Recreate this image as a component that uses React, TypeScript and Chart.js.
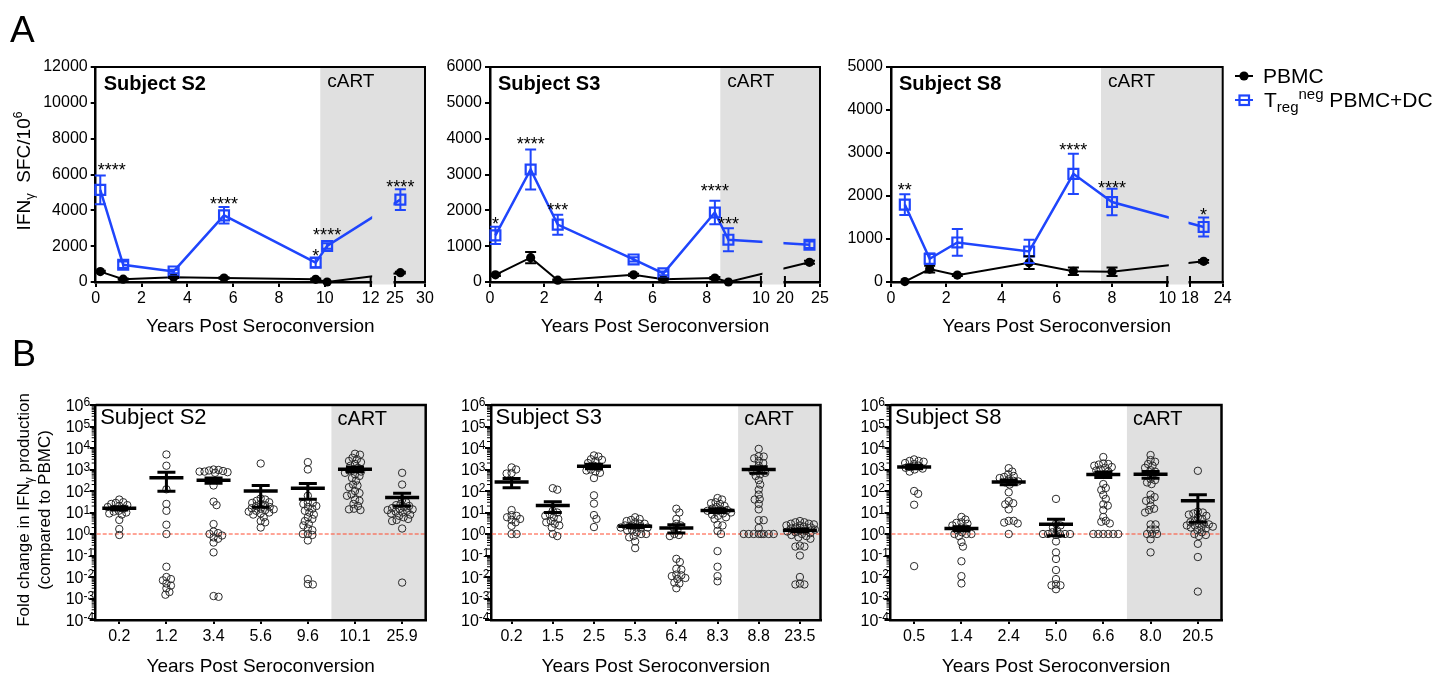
import React, { useEffect, useRef } from "react";
import { Chart, registerables } from "chart.js";

Chart.register(...registerables);

const FONT = '"Liberation Sans", Arial, Helvetica, sans-serif';
const f = (size: number, bold = false) => `${bold ? "bold " : ""}${size}px ${FONT}`;
const BLUE = "#1f45fc";
const GRAY = "#e0e0e0";
const RED = "#ff4a2e";

// ---------------- Panel A data (IFN-gamma SFC/10^6) ----------------
const s2Years = [0.2, 1.2, 3.4, 5.6, 9.6, 10.1, 25.9];
const s2Pbmc = [580, 160, 260, 220, 150, 0, 520];
const s2PbmcErr = [50, 40, 40, 40, 40, 0, 50];
const s2Treg = [5140, 960, 590, 3720, 1080, 2010, 4600];
const s2TregErr = [800, 180, 100, 460, 260, 150, 580];
const s2Stars = ["****", "", "", "****", "*", "****", "****"];
const s2StarY = [6450, 0, 0, 4600, 1650, 2850, 5550];

const s3Years = [0.2, 1.5, 2.5, 5.3, 6.4, 8.3, 8.8, 23.5];
const s3Pbmc = [200, 680, 50, 200, 80, 110, 0, 550];
const s3PbmcErr = [30, 160, 20, 30, 20, 30, 0, 40];
const s3Treg = [1300, 3140, 1600, 630, 240, 1940, 1180, 1040];
const s3TregErr = [240, 560, 280, 60, 50, 330, 320, 90];
const s3Stars = ["*", "****", "***", "", "", "****", "***", ""];
const s3StarY = [1720, 3970, 2120, 0, 0, 2650, 1720, 0];

const s8Years = [0.5, 1.4, 2.4, 5.0, 6.6, 8.0, 20.5];
const s8Pbmc = [10, 300, 160, 450, 250, 240, 480];
const s8PbmcErr = [0, 80, 20, 150, 90, 100, 30];
const s8Treg = [1800, 540, 920, 710, 2515, 1860, 1280];
const s8TregErr = [240, 120, 310, 270, 470, 310, 220];
const s8Stars = ["**", "", "", "", "****", "****", "*"];
const s8StarY = [2230, 0, 0, 0, 3170, 2290, 1650];

// ---------------- Panel B data (fold change vs PBMC) ----------------
const s2Cats = ["0.2", "1.2", "3.4", "5.6", "9.6", "10.1", "25.9"];
const s2Fold = [
  [40, 30, 28, 25, 22, 20, 18, 15, 12, 10, 9, 11, 8, 4.5, 1.7, 0.9],
  [5000, 1500, 120, 25, 12, 2.7, 1.0, 0.03, 0.01, 0.008, 0.007, 0.005, 0.004, 0.003, 0.002, 0.0015],
  [1000, 900, 850, 800, 800, 750, 950, 700, 180, 22, 32, 2.9, 1.3, 1.1, 1.0, 0.85, 0.7, 0.6, 0.4, 0.14, 0.0013, 0.0012],
  [1900, 45, 40, 35, 30, 28, 25, 22, 20, 18, 16, 15, 14, 13, 12, 11, 10, 9, 8, 6, 4, 3.5, 2],
  [2200, 1000, 60, 30, 28, 25, 20, 18, 15, 12, 10, 8, 6, 5, 4, 3, 2.5, 1.8, 1.5, 1.0, 1.0, 0.9, 0.5, 0.008, 0.0047, 0.0045],
  [5400, 4900, 3500, 3000, 2500, 2200, 1800, 1500, 1200, 1000, 900, 800, 700, 600, 500, 400, 300, 200, 180, 150, 100, 80, 70, 60, 40, 35, 25, 20, 15, 14, 13],
  [700, 200, 40, 30, 25, 22, 20, 18, 16, 15, 14, 13, 12, 11, 10, 9, 8, 7, 6, 5, 4.5, 4, 1.8, 0.0055],
];

const s3Cats = ["0.2", "1.5", "2.5", "5.3", "6.4", "8.3", "8.8", "23.5"];
const s3Fold = [
  [1250, 1000, 680, 650, 13, 7.5, 7, 6, 5, 4.5, 3.5, 2.4, 1.0, 1.0],
  [135, 115, 12, 10, 8, 7, 6, 5, 4, 3.5, 3, 2.5, 2, 1.0, 0.8],
  [4500, 4000, 2800, 3000, 2500, 2000, 1500, 1200, 1000, 900, 800, 700, 400, 63, 26, 7.6, 5, 2.1],
  [6, 5, 4.5, 4, 3.5, 3, 3, 2.5, 2.5, 2, 2, 2, 1.8, 1.5, 1.5, 1.2, 1.0, 1.0, 0.8, 0.7, 0.45, 0.22],
  [15, 10, 5, 3, 2.5, 2, 1.5, 1.0, 0.9, 0.8, 0.07, 0.05, 0.024, 0.022, 0.013, 0.012, 0.011, 0.009, 0.008, 0.0055, 0.005, 0.003],
  [47, 40, 30, 27, 25, 20, 18, 15, 14, 13, 12, 11, 10, 9, 8, 7, 6, 5, 2.7, 2.5, 1.4, 1.0, 0.16, 0.03, 0.011, 0.0063],
  [9100, 4100, 4000, 3300, 2500, 2000, 1500, 1000, 900, 800, 700, 600, 500, 320, 200, 115, 68, 42, 40, 25, 14, 4.4, 4.4, 1.9, 1, 1, 1, 1, 1, 1, 1, 1],
  [4, 3.5, 3.5, 3, 3, 2.8, 2.5, 2.5, 2.2, 2, 2, 1.8, 1.6, 1.5, 1.4, 1.3, 1.2, 1.1, 1.0, 0.9, 0.8, 0.7, 0.6, 0.29, 0.26, 0.26, 0.1, 0.01, 0.005, 0.0045, 0.0045],
];

const s8Cats = ["0.5", "1.4", "2.4", "5.0", "6.6", "8.0", "20.5"];
const s8Fold = [
  [2950, 2500, 2500, 2300, 2000, 1800, 1500, 1300, 1200, 1100, 1000, 800, 100, 74, 23, 0.032],
  [6.2, 4.7, 3.5, 3.3, 3, 2.5, 2, 1.8, 1.5, 1.2, 1.0, 1.0, 1.0, 0.8, 0.42, 0.26, 0.054, 0.011, 0.005],
  [1150, 800, 600, 500, 450, 400, 350, 300, 280, 250, 200, 87, 34, 27, 24, 14, 4.1, 4.1, 3.4, 3.1, 1.0],
  [43, 3, 2.5, 2, 1.5, 1.2, 1.0, 1.0, 1.0, 1.0, 1.0, 0.9, 0.45, 0.14, 0.069, 0.021, 0.008, 0.0046, 0.0041, 0.0041, 0.0027],
  [3800, 1900, 1800, 1700, 1500, 1300, 1200, 1000, 900, 800, 210, 138, 112, 66, 43, 24, 21, 13, 6.2, 4.1, 3.7, 3.1, 1, 1, 1, 1, 1, 1],
  [4700, 2750, 2300, 1800, 1500, 1200, 930, 800, 360, 320, 250, 210, 68, 52, 39, 35, 21, 15, 13, 10, 2.8, 2.8, 1.6, 1.6, 1, 1, 1, 0.57, 0.14],
  [870, 11, 10, 9, 8, 7, 6, 5, 4, 3.5, 3, 3, 2.8, 2.5, 2.5, 2.2, 2, 2, 1.8, 1.5, 1.2, 1.0, 0.9, 0.8, 0.35, 0.085, 0.0021],
];

const logExps = [-4, -3, -2, -1, 0, 1, 2, 3, 4, 5, 6];

// ---------------- layout ----------------
const TOP_Y = 0, TOP_H = 345, TOP_AREA_TOP = 67, TOP_AREA_BOTTOM = 282;
const BOT_Y = 335, BOT_H = 339, BOT_AREA_TOP = 405, BOT_AREA_BOTTOM = 620;

const topSpecs: any[] = [
  { left: 0, width: 440, areaLeft: 95.7, areaRight: 425, yMax: 12000, yStep: 2000, segA: [0, 12], segB: [25, 30], fA: 0.835, fGap: 0.0738, ticksA: [0, 2, 4, 6, 8, 10, 12], ticksB: [25, 30], cart: 9.8, subject: "Subject S2", years: s2Years, pbmc: s2Pbmc, pbmcErr: s2PbmcErr, treg: s2Treg, tregErr: s2TregErr, stars: s2Stars, starY: s2StarY, main: true },
  { left: 440, width: 390, areaLeft: 490, areaRight: 820, yMax: 6000, yStep: 1000, segA: [0, 10], segB: [20, 25], fA: 0.821, fGap: 0.0727, ticksA: [0, 2, 4, 6, 8, 10], ticksB: [20, 25], cart: 8.5, subject: "Subject S3", years: s3Years, pbmc: s3Pbmc, pbmcErr: s3PbmcErr, treg: s3Treg, tregErr: s3TregErr, stars: s3Stars, starY: s3StarY },
  { left: 830, width: 612, areaLeft: 891, areaRight: 1222.7, yMax: 5000, yStep: 1000, segA: [0, 10], segB: [18, 24], fA: 0.833, fGap: 0.0684, ticksA: [0, 2, 4, 6, 8, 10], ticksB: [18, 24], cart: 7.6, subject: "Subject S8", years: s8Years, pbmc: s8Pbmc, pbmcErr: s8PbmcErr, treg: s8Treg, tregErr: s8TregErr, stars: s8Stars, starY: s8StarY, legend: true },
];

const botSpecs: any[] = [
  { left: 0, width: 440, areaLeft: 95.7, areaRight: 425.7, cats: s2Cats, fold: s2Fold, cartIdx: 5, subject: "Subject S2", main: true },
  { left: 440, width: 390, areaLeft: 491, areaRight: 820.5, cats: s3Cats, fold: s3Fold, cartIdx: 6, subject: "Subject S3" },
  { left: 830, width: 612, areaLeft: 890.5, areaRight: 1221.5, cats: s8Cats, fold: s8Fold, cartIdx: 5, subject: "Subject S8" },
];

// ---------------- helpers ----------------
type Run = { t: string; size: number; dy?: number; bold?: boolean };
function drawRuns(ctx: CanvasRenderingContext2D, list: Run[], x: number, y: number, align: "left" | "center", rot = 0, color = "#000") {
  ctx.save();
  ctx.translate(x, y);
  if (rot) ctx.rotate(rot);
  ctx.fillStyle = color;
  ctx.textAlign = "left";
  ctx.textBaseline = "alphabetic";
  let total = 0;
  const widths = list.map((r) => {
    ctx.font = f(r.size, r.bold);
    const w = ctx.measureText(r.t).width;
    total += w;
    return w;
  });
  let cx = align === "center" ? -total / 2 : 0;
  list.forEach((r, i) => {
    ctx.font = f(r.size, r.bold);
    ctx.fillText(r.t, cx, r.dy || 0);
    cx += widths[i];
  });
  ctx.restore();
}

function makeMap(segA: number[], segB: number[], fA: number, fGap: number) {
  const fB = 1 - fA - fGap;
  return (x: number) =>
    x <= segA[1]
      ? ((x - segA[0]) / (segA[1] - segA[0])) * fA
      : fA + fGap + ((x - segB[0]) / (segB[1] - segB[0])) * fB;
}

// simple beeswarm: x offsets in pixels, derived from the values' log positions
function swarm(values: number[], pxPerDecade: number, minDist: number, maxHalf: number): number[] {
  const order = values.map((_, i) => i).sort((a, b) => values[b] - values[a]);
  const placed: { x: number; y: number }[] = [];
  const out = new Array(values.length).fill(0);
  for (const i of order) {
    const y = Math.log10(values[i]) * pxPerDecade;
    let best = 0;
    let found = false;
    let bestScore = -1;
    for (let k = 0; k < 400; k++) {
      const cand = (k % 2 === 1 ? 1 : -1) * Math.ceil(k / 2) * 0.5;
      if (Math.abs(cand) > maxHalf) break;
      let md = Infinity;
      for (const p of placed) md = Math.min(md, Math.hypot(p.x - cand, p.y - y));
      if (md >= minDist) {
        best = cand;
        found = true;
        break;
      }
      if (md > bestScore + 0.3) {
        bestScore = md;
        best = cand;
      }
    }
    if (!found && bestScore < 0) best = 0;
    placed.push({ x: best, y });
    out[i] = best;
  }
  return out;
}

function errBars(ctx: CanvasRenderingContext2D, xs: any, ys: any, xv: number[], vals: number[], errs: number[], color: string, cap: number) {
  ctx.save();
  ctx.strokeStyle = color;
  ctx.lineWidth = 2;
  xv.forEach((v, i) => {
    const e = errs[i];
    if (!e) return;
    const px = xs.getPixelForValue(v);
    const hi = ys.getPixelForValue(vals[i] + e);
    const lo = ys.getPixelForValue(Math.max(0, vals[i] - e));
    ctx.beginPath();
    ctx.moveTo(px, hi);
    ctx.lineTo(px, lo);
    ctx.moveTo(px - cap / 2, hi);
    ctx.lineTo(px + cap / 2, hi);
    ctx.moveTo(px - cap / 2, lo);
    ctx.lineTo(px + cap / 2, lo);
    ctx.stroke();
  });
  ctx.restore();
}

function frame(ctx: CanvasRenderingContext2D, a: any, w: number) {
  ctx.save();
  ctx.strokeStyle = "#000";
  ctx.lineWidth = w;
  ctx.beginPath();
  ctx.moveTo(a.left, a.top);
  ctx.lineTo(a.right, a.top);
  ctx.lineTo(a.right, a.bottom + 1);
  ctx.stroke();
  ctx.restore();
}

const axisCommon = (tickLength: number) => ({
  grid: { display: true, drawOnChartArea: false, drawTicks: true, tickLength, lineWidth: 2, color: "#000" },
  border: { display: true, color: "#000", width: 2.5 },
});

// ---------------- Panel A chart config ----------------
function topConfig(p: any): any {
  const map = makeMap(p.segA, p.segB, p.fA, p.fGap);
  const tickYears = [...p.ticksA, ...p.ticksB];
  const xv = p.years.map(map);
  const yW = p.areaLeft - p.left;
  const padRight = p.left + p.width - p.areaRight;
  const xH = TOP_Y + TOP_H - TOP_AREA_BOTTOM;

  const decor = {
    id: "topDecor",
    beforeDraw(chart: any) {
      const { ctx, chartArea: a, scales } = chart;
      const xs = scales.x.getPixelForValue(map(p.cart));
      ctx.save();
      ctx.fillStyle = GRAY;
      ctx.fillRect(xs, a.top, a.right - xs, a.bottom - a.top);
      ctx.restore();
    },
    afterDatasetsDraw(chart: any) {
      const { ctx, chartArea: a, scales } = chart;
      const X = scales.x, Y = scales.y;
      // axis break
      const g0 = X.getPixelForValue(map(p.segA[1]));
      const g1 = X.getPixelForValue(map(p.segB[0]));
      ctx.save();
      ctx.fillStyle = GRAY;
      ctx.fillRect(g0 + 1.5, a.top + 1, g1 - g0 - 3, a.bottom - a.top + 1.5);
      ctx.strokeStyle = "#000";
      ctx.lineWidth = 2;
      [g0, g1].forEach((gx) => {
        ctx.beginPath();
        ctx.moveTo(gx, a.bottom - 6);
        ctx.lineTo(gx, a.bottom + 5);
        ctx.stroke();
      });
      ctx.restore();
      // error bars
      errBars(ctx, X, Y, xv, p.pbmc, p.pbmcErr, "#000", 11);
      errBars(ctx, X, Y, xv, p.treg, p.tregErr, BLUE, 11);
      // significance stars
      ctx.save();
      ctx.font = f(18);
      ctx.fillStyle = "#000";
      ctx.textBaseline = "alphabetic";
      ctx.textAlign = "left";
      p.stars.forEach((s: string, i: number) => {
        if (!s) return;
        const w = ctx.measureText(s).width;
        let lx = X.getPixelForValue(xv[i]) - w / 2;
        if (lx < a.left + 2) lx = a.left + 2;
        ctx.fillText(s, lx, Y.getPixelForValue(p.starY[i]) + 10);
      });
      ctx.restore();
      frame(ctx, a, 2);
      // labels
      const cartPx = X.getPixelForValue(map(p.cart));
      drawRuns(ctx, [{ t: p.subject, size: 20, bold: true }], a.left + 8, a.top + 23, "left");
      drawRuns(ctx, [{ t: "cART", size: 19 }], cartPx + 7, a.top + 20, "left");
      drawRuns(ctx, [{ t: "Years Post Seroconversion", size: 19 }], (a.left + a.right) / 2, 332 - TOP_Y, "center");
      if (p.main) {
        drawRuns(ctx, [{ t: "A", size: 37 }], 10 - p.left, 42 - TOP_Y, "left");
        drawRuns(
          ctx,
          [
            { t: "IFN", size: 19 },
            { t: "γ", size: 13, dy: 4 },
            { t: "  SFC/10", size: 19 },
            { t: "6", size: 12, dy: -8 },
          ],
          30 - p.left,
          171 - TOP_Y,
          "center",
          -Math.PI / 2
        );
      }
      if (p.legend) {
        const ox = -p.left;
        ctx.save();
        ctx.lineWidth = 2;
        ctx.strokeStyle = "#000";
        ctx.beginPath();
        ctx.moveTo(1235 + ox, 76);
        ctx.lineTo(1253 + ox, 76);
        ctx.stroke();
        ctx.fillStyle = "#000";
        ctx.beginPath();
        ctx.arc(1244 + ox, 76, 4.6, 0, Math.PI * 2);
        ctx.fill();
        ctx.strokeStyle = BLUE;
        ctx.beginPath();
        ctx.moveTo(1235 + ox, 100);
        ctx.lineTo(1253 + ox, 100);
        ctx.stroke();
        ctx.lineWidth = 2.2;
        ctx.strokeRect(1239.5 + ox, 95.5, 9.5, 9.5);
        ctx.restore();
        drawRuns(ctx, [{ t: "PBMC", size: 21 }], 1263 + ox, 83, "left");
        drawRuns(
          ctx,
          [
            { t: "T", size: 21 },
            { t: "reg", size: 15, dy: 5 },
            { t: "neg", size: 15, dy: -8 },
            { t: " PBMC+DC", size: 21 },
          ],
          1264 + ox,
          107,
          "left"
        );
      }
    },
  };

  return {
    type: "line",
    data: {
      datasets: [
        {
          label: "Treg neg PBMC+DC",
          data: p.years.map((x: number, i: number) => ({ x: map(x), y: p.treg[i] })),
          borderColor: BLUE,
          borderWidth: 2.5,
          pointStyle: "rect",
          pointRadius: 7,
          pointBorderWidth: 2.2,
          pointBorderColor: BLUE,
          pointBackgroundColor: "rgba(0,0,0,0)",
          tension: 0,
          fill: false,
          clip: false,
        },
        {
          label: "PBMC",
          data: p.years.map((x: number, i: number) => ({ x: map(x), y: p.pbmc[i] })),
          borderColor: "#000",
          borderWidth: 2,
          pointStyle: "circle",
          pointRadius: 4.6,
          pointBorderWidth: 0,
          pointBackgroundColor: "#000",
          pointBorderColor: "#000",
          tension: 0,
          fill: false,
          clip: false,
        },
      ],
    },
    options: {
      animation: false,
      responsive: false,
      maintainAspectRatio: false,
      events: [],
      layout: { padding: { left: 0, right: padRight, top: TOP_AREA_TOP - TOP_Y, bottom: 0 } },
      plugins: { legend: { display: false }, tooltip: { enabled: false } },
      scales: {
        x: {
          type: "linear",
          min: 0,
          max: 1,
          afterBuildTicks: (s: any) => {
            s.ticks = tickYears.map((t) => ({ value: map(t) }));
          },
          afterFit: (s: any) => {
            s.height = xH;
            s.paddingLeft = 0;
            s.paddingRight = 0;
          },
          ticks: {
            autoSkip: false,
            maxRotation: 0,
            minRotation: 0,
            padding: 2,
            color: "#000",
            font: { family: FONT, size: 16 },
            callback: (_v: any, i: number) => String(tickYears[i]),
          },
          ...axisCommon(5),
        },
        y: {
          type: "linear",
          min: 0,
          max: p.yMax,
          afterFit: (s: any) => {
            s.width = yW;
            s.paddingTop = 0;
            s.paddingBottom = 0;
          },
          ticks: {
            stepSize: p.yStep,
            padding: 3,
            color: "#000",
            font: { family: FONT, size: 16 },
            callback: (v: any) => String(v),
          },
          ...axisCommon(5),
        },
      },
    },
    plugins: [decor],
  };
}

// ---------------- Panel B chart config ----------------
function botConfig(p: any): any {
  const n = p.cats.length;
  const colPx = (p.areaRight - p.areaLeft) / n;
  const pxPerDecade = (BOT_AREA_BOTTOM - BOT_AREA_TOP) / 10;
  const pts: { x: number; y: number }[] = [];
  p.fold.forEach((vals: number[], i: number) => {
    const offs = swarm(vals, pxPerDecade, 4.6, 15);
    vals.forEach((v, j) => pts.push({ x: i + offs[j] / colPx, y: v }));
  });
  const yW = p.areaLeft - p.left;
  const padRight = p.left + p.width - p.areaRight;
  const xH = BOT_Y + BOT_H - BOT_AREA_BOTTOM;

  const decor = {
    id: "botDecor",
    beforeDraw(chart: any) {
      const { ctx, chartArea: a, scales } = chart;
      const xs = scales.x.getPixelForValue(p.cartIdx - 0.5);
      ctx.save();
      ctx.fillStyle = GRAY;
      ctx.fillRect(xs, a.top, a.right - xs, a.bottom - a.top);
      ctx.restore();
    },
    beforeDatasetsDraw(chart: any) {
      const { ctx, chartArea: a, scales } = chart;
      const y1 = scales.y.getPixelForValue(1);
      ctx.save();
      ctx.strokeStyle = RED;
      ctx.lineWidth = 1;
      ctx.setLineDash([4, 2]);
      ctx.beginPath();
      ctx.moveTo(a.left + 1, y1);
      ctx.lineTo(a.right, y1);
      ctx.stroke();
      ctx.restore();
    },
    afterDatasetsDraw(chart: any) {
      const { ctx, chartArea: a, scales } = chart;
      const X = scales.x, Y = scales.y;
      // mean +/- SEM
      ctx.save();
      ctx.strokeStyle = "#000";
      p.fold.forEach((vals: number[], i: number) => {
        const m = vals.reduce((s, v) => s + v, 0) / vals.length;
        const sd = Math.sqrt(vals.reduce((s, v) => s + (v - m) * (v - m), 0) / (vals.length - 1));
        const sem = sd / Math.sqrt(vals.length);
        const px = X.getPixelForValue(i);
        const pm = Y.getPixelForValue(m);
        const ph = Y.getPixelForValue(m + sem);
        const pl = Y.getPixelForValue(Math.max(m - sem, 1e-4));
        ctx.lineWidth = 3.5;
        ctx.beginPath();
        ctx.moveTo(px - 17, pm);
        ctx.lineTo(px + 17, pm);
        ctx.stroke();
        ctx.lineWidth = 3;
        ctx.beginPath();
        ctx.moveTo(px, ph);
        ctx.lineTo(px, pl);
        ctx.moveTo(px - 9, ph);
        ctx.lineTo(px + 9, ph);
        ctx.moveTo(px - 9, pl);
        ctx.lineTo(px + 9, pl);
        ctx.stroke();
      });
      // minor log ticks
      ctx.lineWidth = 1;
      ctx.beginPath();
      for (let e = -4; e < 6; e++) {
        for (let k = 2; k <= 9; k++) {
          const py = Y.getPixelForValue(k * Math.pow(10, e));
          ctx.moveTo(a.left - 1, py);
          ctx.lineTo(a.left - 4, py);
        }
      }
      ctx.stroke();
      ctx.restore();
      // log tick labels 10^n
      logExps.forEach((e) => {
        const py = Y.getPixelForValue(Math.pow(10, e));
        drawRuns(ctx, [{ t: "10", size: 16 }, { t: e < 0 ? "-" + Math.abs(e) : String(e), size: 12, dy: -4.5 }], a.left - 30, py + 5.5, "left");
      });
      frame(ctx, a, 2.5);
      const cartPx = X.getPixelForValue(p.cartIdx - 0.5);
      drawRuns(ctx, [{ t: p.subject, size: 22 }], a.left + 4.5, a.top + 19, "left");
      drawRuns(ctx, [{ t: "cART", size: 20 }], cartPx + 6, a.top + 20, "left");
      drawRuns(ctx, [{ t: "Years Post Seroconversion", size: 19 }], (a.left + a.right) / 2, 672 - BOT_Y, "center");
      if (p.main) {
        drawRuns(ctx, [{ t: "B", size: 36 }], 12 - p.left, 366 - BOT_Y, "left");
        drawRuns(
          ctx,
          [
            { t: "Fold change in IFN", size: 17 },
            { t: "γ", size: 12, dy: 4 },
            { t: " production", size: 17 },
          ],
          29 - p.left,
          510 - BOT_Y,
          "center",
          -Math.PI / 2
        );
        drawRuns(ctx, [{ t: "(compared to PBMC)", size: 17 }], 50 - p.left, 510 - BOT_Y, "center", -Math.PI / 2);
      }
    },
  };

  return {
    type: "scatter",
    data: {
      datasets: [
        {
          label: "Fold change",
          data: pts,
          pointStyle: "circle",
          pointRadius: 3.7,
          pointBorderWidth: 1,
          pointBorderColor: "#2a2a2a",
          pointBackgroundColor: "rgba(255,255,255,0)",
          showLine: false,
        },
      ],
    },
    options: {
      animation: false,
      responsive: false,
      maintainAspectRatio: false,
      events: [],
      layout: { padding: { left: 0, right: padRight, top: BOT_AREA_TOP - BOT_Y, bottom: 0 } },
      plugins: { legend: { display: false }, tooltip: { enabled: false } },
      scales: {
        x: {
          type: "linear",
          min: -0.5,
          max: n - 0.5,
          afterBuildTicks: (s: any) => {
            s.ticks = p.cats.map((_: string, i: number) => ({ value: i }));
          },
          afterFit: (s: any) => {
            s.height = xH;
            s.paddingLeft = 0;
            s.paddingRight = 0;
          },
          ticks: {
            autoSkip: false,
            maxRotation: 0,
            minRotation: 0,
            padding: 3,
            color: "#000",
            font: { family: FONT, size: 16 },
            callback: (_v: any, i: number) => p.cats[i],
          },
          ...axisCommon(4),
        },
        y: {
          type: "logarithmic",
          min: 1e-4,
          max: 1e6,
          afterBuildTicks: (s: any) => {
            s.ticks = logExps.map((e) => ({ value: Math.pow(10, e) }));
          },
          afterFit: (s: any) => {
            s.width = yW;
            s.paddingTop = 0;
            s.paddingBottom = 0;
          },
          ticks: { callback: () => "", padding: 0 },
          ...axisCommon(6),
        },
      },
    },
    plugins: [decor],
  };
}

function ChartBox({ left, top, width, height, make }: any) {
  const ref = useRef<HTMLCanvasElement>(null);
  useEffect(() => {
    const chart = new Chart(ref.current as HTMLCanvasElement, make());
    return () => chart.destroy();
  }, []);
  return (
    <canvas
      ref={ref}
      width={width}
      height={height}
      style={{ position: "absolute", left, top, width, height }}
    />
  );
}

export default function App() {
  return (
    <div style={{ position: "absolute", left: 0, top: 0, width: 1442, height: 674, background: "#fff", overflow: "hidden" }}>
      {topSpecs.map((p, i) => (
        <ChartBox key={"t" + i} left={p.left} top={TOP_Y} width={p.width} height={TOP_H} make={() => topConfig(p)} />
      ))}
      {botSpecs.map((p, i) => (
        <ChartBox key={"b" + i} left={p.left} top={BOT_Y} width={p.width} height={BOT_H} make={() => botConfig(p)} />
      ))}
    </div>
  );
}
